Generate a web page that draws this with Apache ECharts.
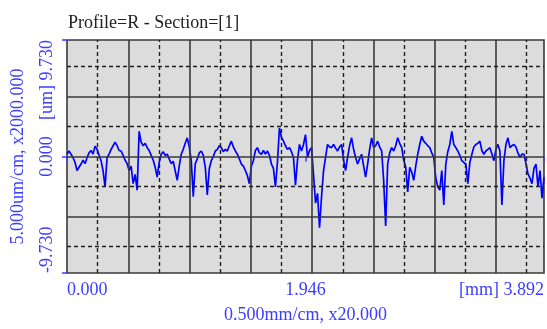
<!DOCTYPE html>
<html>
<head>
<meta charset="utf-8">
<script src="https://cdn.jsdelivr.net/npm/echarts@6/dist/echarts.min.js"></script>
<style>
  html, body { margin: 0; padding: 0; background: #fff; }
  #chart { width: 547px; height: 329px; }
</style>
</head>
<body>
<div id="chart"></div>
<script>
// Roughness profile heights [um], sampled at a uniform step along the section
const sampleStepMm = 3.892 / 238;
const heightUm = [
   0.20,  0.46,  0.20, -0.08, -0.50, -1.17, -0.90, -0.63, -0.30, -0.60,
  -0.10,  0.30,  0.50,  0.20,  0.87,  0.60,  0.10, -0.35, -1.20, -2.54,
  -0.08,  0.20,  0.60,  0.90,  1.20,  0.90,  0.50,  0.46,  0.10, -0.30,
  -0.60, -1.17, -0.80, -2.27, -1.50, -2.81,  2.10,  1.20,  0.90,  1.10,
   0.74,  0.50,  0.10, -0.30, -0.90, -1.72, -0.50,  0.19,  0.40,  0.10,
   0.20, -0.20, -0.60, -0.40, -1.20, -1.99, -0.80,  0.19,  0.60,  1.10,
   1.56,  0.80, -0.35, -3.36, -0.60, -0.20,  0.30,  0.46,  0.10, -0.90,
  -3.22, -1.00, -0.35,  0.00,  0.46,  0.60,  0.90,  0.74,  0.40,  0.60,
   0.46,  0.90,  1.28,  0.80,  0.46,  0.20, -0.20, -0.63, -0.80, -1.17,
  -1.60, -2.27, -0.80, -0.35,  0.50,  0.74,  0.30,  0.19,  0.50,  0.20,
   0.46,  0.10, -0.63, -1.00, -2.54, -0.50,  2.38,  1.60,  1.28,  0.90,
   0.60,  0.74,  0.40, -0.08, -2.40, -0.30,  1.01,  0.46,  1.00,  1.83,
  -0.08,  0.50,  0.74, -1.50, -3.90, -3.08, -5.95, -3.36, -1.20, -0.08,
   1.01,  0.80,  0.74,  1.01,  0.70,  0.46,  0.80,  1.01, -0.30, -1.17,
  -0.08,  0.90,  1.56,  0.60, -0.08, -0.63, -0.20,  0.19, -0.80, -1.72,
  -0.63,  0.60,  1.56,  0.74,  0.90,  1.28,  0.80,  0.46, -2.00, -5.81,
  -0.63,  0.30,  0.74,  0.46,  0.90,  1.56,  1.10,  0.74, -0.30, -0.90,
  -2.95, -0.90, -1.30, -1.99, -0.80,  0.19,  1.00,  1.69,  1.28,  1.10,
   0.90,  0.74,  0.30, -0.08, -1.80, -2.54, -2.81, -1.17, -4.04, -0.63,
   0.40,  1.01,  2.10,  1.00,  0.74,  0.46,  0.10, -0.35, -0.50, -0.63,
  -2.27, -0.50,  0.19,  0.80,  1.01,  1.10,  1.28,  0.50,  0.19,  0.46,
   0.60,  0.74,  0.20, -0.35,  0.60,  1.01,  0.46, -4.04, -0.35,  1.00,
   1.56,  0.74,  0.90,  1.01,  0.80,  0.30, -0.08,  0.20,  0.19, -0.60,
  -1.45, -1.80, -2.27, -1.00, -0.63, -2.54, -1.17, -3.49, -1.72
];

// Axis extents and labelled ticks
const xMax = 3.892;
const xTickStep = 1.946;
const yMax = 9.730;

// Grid lines: solid every 0.5 mm / 5 um, dashed halfway between
const xMajorLines = [0.5, 1.0, 1.5, 2.0, 2.5, 3.0, 3.5];
const xMinorLines = [0.25, 0.75, 1.25, 1.75, 2.25, 2.75, 3.25, 3.75];
const yMajorLines = [-5, 0, 5];
const yMinorLines = [-7.5, -2.5, 2.5, 7.5];

const titleText = 'Profile=R - Section=[1]';
const xAxisName = '0.500mm/cm, x20.000';
const yAxisName = '5.000um/cm, x2000.000';

const serif = "'Liberation Serif', 'DejaVu Serif', serif";
const labelBlue = '#3c3cff';

const solidStyle = { color: '#3a3a3a', width: 1.6, type: 'solid' };
const dashStyle = { color: '#1e1e1e', width: 1.4, type: [4, 3] };

const gridLineData = [
  ...xMajorLines.map(v => ({ xAxis: v, lineStyle: solidStyle })),
  ...yMajorLines.map(v => ({ yAxis: v, lineStyle: solidStyle })),
  ...xMinorLines.map(v => ({ xAxis: v, lineStyle: dashStyle })),
  ...yMinorLines.map(v => ({ yAxis: v, lineStyle: dashStyle }))
];

const profilePoints = heightUm.map((h, i) => [Math.min(i * sampleStepMm, xMax), h]);

const chart = echarts.init(document.getElementById('chart'), null, { renderer: 'canvas' });

chart.setOption({
  animation: false,
  backgroundColor: '#ffffff',
  title: {
    text: titleText,
    left: 63,
    top: 9,
    textStyle: { fontFamily: serif, fontSize: 18, fontWeight: 'normal', color: '#222' }
  },
  grid: {
    left: 67, top: 40, right: 3, bottom: 51,
    show: true,
    backgroundColor: '#dcdcdc',
    borderColor: '#3a3a3a',
    borderWidth: 1.6
  },
  xAxis: {
    type: 'value',
    min: 0,
    max: xMax,
    interval: xTickStep,
    name: xAxisName,
    nameLocation: 'middle',
    nameGap: 33,
    nameTextStyle: { fontFamily: serif, fontSize: 18, color: labelBlue },
    axisLine: { show: false },
    axisTick: { show: true, length: 5, lineStyle: { color: labelBlue, width: 1.5 } },
    splitLine: { show: false },
    axisLabel: {
      fontFamily: serif, fontSize: 18, color: labelBlue, margin: 8,
      alignMinLabel: 'left',
      alignMaxLabel: 'right',
      formatter: v => (Math.abs(v - xMax) < 1e-6 ? '[mm] ' : '') + v.toFixed(3)
    }
  },
  yAxis: {
    type: 'value',
    min: -yMax,
    max: yMax,
    interval: yMax,
    name: yAxisName,
    nameLocation: 'middle',
    nameGap: 40,
    nameTextStyle: { fontFamily: serif, fontSize: 18, color: labelBlue },
    axisLine: { show: false },
    axisTick: { show: true, length: 5, lineStyle: { color: labelBlue, width: 1.5 } },
    splitLine: { show: false },
    axisLabel: {
      fontFamily: serif, fontSize: 18, color: labelBlue, margin: 11,
      rotate: 90,
      alignMinLabel: 'left',
      alignMaxLabel: 'right',
      formatter: v => (Math.abs(v - yMax) < 1e-6 ? '[um] ' : '') + v.toFixed(3)
    }
  },
  series: [
    {
      // carrier for the reference grid lines, drawn beneath the profile
      type: 'line',
      data: [],
      z: 1,
      silent: true,
      markLine: {
        silent: true,
        symbol: 'none',
        label: { show: false },
        animation: false,
        data: gridLineData
      }
    },
    {
      type: 'line',
      z: 3,
      data: profilePoints,
      showSymbol: false,
      lineStyle: { color: '#0000ff', width: 1.7 },
      silent: true
    }
  ]
});
</script>
</body>
</html>
